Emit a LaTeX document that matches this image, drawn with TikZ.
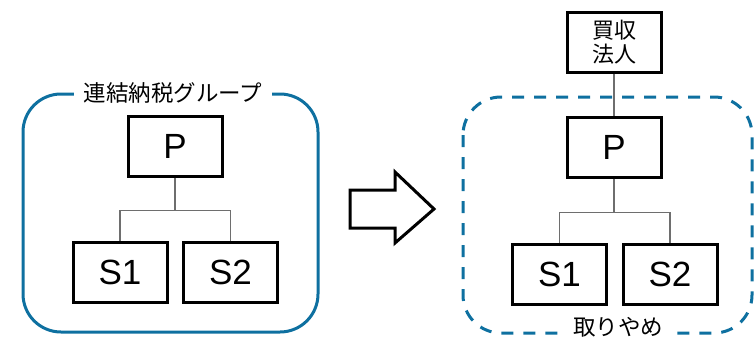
\documentclass[tikz,border=0pt]{standalone}
\usepackage{fontspec}
\setmainfont{Liberation Sans}
\newfontfamily\jpfont{Noto Sans CJK JP}
\usetikzlibrary{calc}
\definecolor{groupblue}{RGB}{14,112,160}
\definecolor{linkgray}{RGB}{110,110,110}
\begin{document}
\begin{tikzpicture}[x=1pt,y=-1pt,
  entity/.style={draw=black,line width=3pt,fill=white,minimum width=94pt,
    minimum height=60pt,inner sep=0pt,font=\fontsize{35}{38}\selectfont},
  grouplabel/.style={fill=white,inner sep=0pt,inner xsep=10pt,
    font=\jpfont\fontsize{22.5}{24}\selectfont},
  link/.style={draw=linkgray,line width=1.3pt},
  groupline/.style={draw=groupblue,line width=3pt,rounded corners=38pt}]
\useasboundingbox (0,0) rectangle (754,340);

% left: consolidated group
\draw[groupline] (23,94) rectangle (318,332);
\node[grouplabel] (lg) at (173,93) {連結納税グループ};
\node[entity] (lp) at (175,146) {P};
\node[entity] (ls1) at (120,272) {S1};
\node[entity] (ls2) at (230.5,272) {S2};
\coordinate (lj) at ($(lp.south)+(0,33)$);
\draw[link] (lp.south) -- (lj);
\draw[link] (ls1.north) |- (lj) -| (ls2.north);

% transition arrow
\draw[line width=3pt,line join=miter,fill=white]
  (350,190) -- (395,190) -- (395,172) -- (434,209) -- (395,243) -- (395,228)
  -- (350,228) -- cycle;

% right: group after acquisition
\draw[groupline,dashed,dash pattern=on 12pt off 10pt] (463,97) rectangle (752,333);
\node[grouplabel,inner xsep=12pt,inner ysep=2pt] (rg) at (618,327) {取りやめ};
\node[entity,font=\jpfont\fontsize{22}{24}\selectfont,align=center] (acq) at (614,42) {買収\\法人};
\node[entity] (rp) at (614,147) {P};
\node[entity] (rs1) at (559.5,274) {S1};
\node[entity] (rs2) at (670,274) {S2};
\draw[link,line width=2pt] (acq.south) -- (rp.north);
\coordinate (rj) at ($(rp.south)+(0,34)$);
\draw[link] (rp.south) -- (rj);
\draw[link] (rs1.north) |- (rj) -| (rs2.north);
\end{tikzpicture}
\end{document}
